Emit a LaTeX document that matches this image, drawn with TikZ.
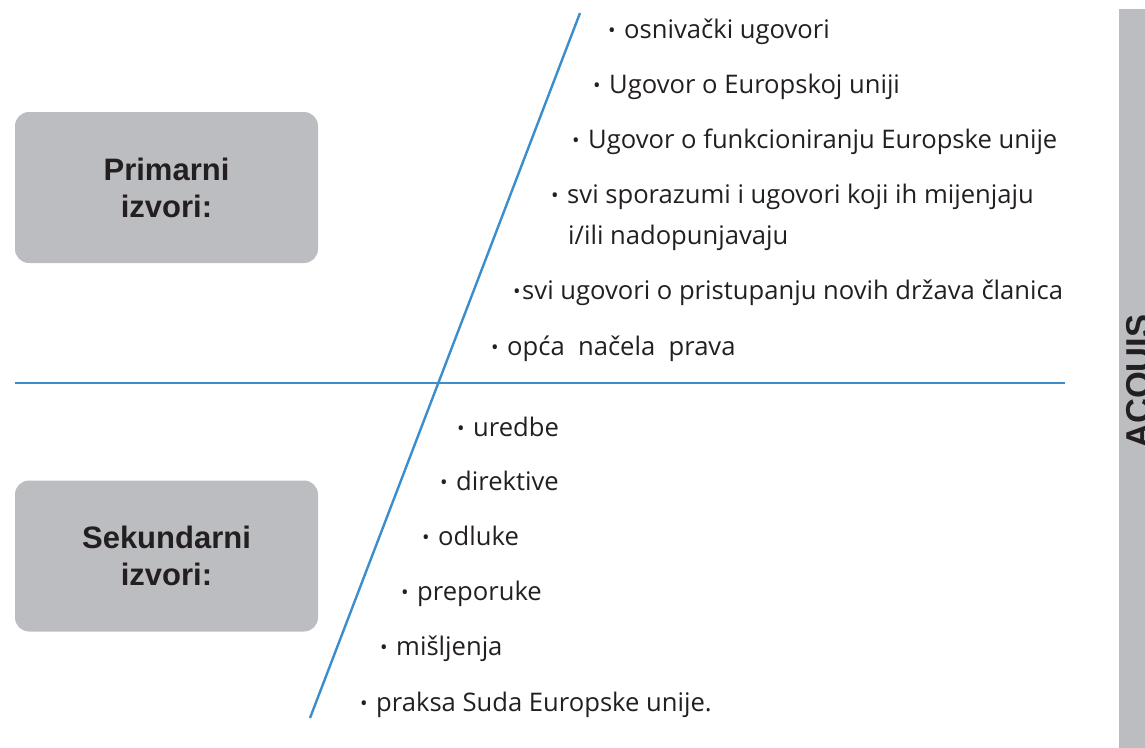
\documentclass[tikz,border=0pt]{standalone}
\usepackage{fontspec}
\setmainfont{Open Sans}
\newfontfamily\boxfont{Liberation Sans}
\definecolor{boxgray}{HTML}{BCBDC1}
\definecolor{lineblue}{HTML}{3B8ECB}
\definecolor{txt}{HTML}{231F20}
\newcommand{\bulglyph}{{\fontsize{20}{20}\selectfont\raisebox{1pt}{•}}}
\newcommand{\bul}{\bulglyph\hspace{8.5pt}}
\tikzset{
  x=1pt, y=-1pt,
  greybox/.style={fill=boxgray, rounded corners=14pt, minimum width=303pt, minimum height=151pt,
    inner sep=0pt, align=center, text=txt, font=\boxfont\bfseries\fontsize{31}{37}\selectfont},
  item/.style={anchor=base west, inner sep=0pt, text=txt, font=\fontsize{25.6}{30}\selectfont},
  blueline/.style={draw=lineblue, line width=2.4pt}
}
\begin{document}
\begin{tikzpicture}
\useasboundingbox (0,0) rectangle (1145,747);
\clip (0,0) rectangle (1145,747);
% right bar
\fill[boxgray] (1119,9) rectangle (1160,760);
\node[rotate=90, anchor=base west, inner sep=0pt, text=txt, font=\boxfont\bfseries\fontsize{34.5}{34.5}\selectfont] (acq) at (1150,449) {ACQUIS};
% boxes
\node[greybox] (prim) at (166.5,187.5) {Primarni\\izvori:};
\node[greybox] (sek) at (166.5,556) {Sekundarni\\izvori:};
% lines
\coordinate (hl) at (15,383);
\coordinate (hr) at (1065,383);
\coordinate (dt) at (580,13);
\coordinate (db) at (310,718);
\draw[blueline] (hl) -- (hr);
\draw[blueline] (dt) -- (db);
% primary items
\node[item] (p1) at (608,38) {\bul osnivački ugovori};
\node[item] (p2) at (593,93) {\bul Ugovor o Europskoj uniji};
\node[item] (p3) at (572,148) {\bul Ugovor o funkcioniranju Europske unije};
\node[item] (p4) at (551,203) {\bul svi sporazumi i ugovori koji ih mijenjaju};
\node[item] (p4b) at (568,244) {i/ili nadopunjavaju};
\node[item] (p5) at (513,299) {\bulglyph\hspace{1.5pt}svi ugovori o pristupanju novih država članica};
\node[item] (p6) at (491,355) {\bul opća\ \ načela\ \ prava};
% secondary items
\node[item] (s1) at (457,436) {\bul uredbe};
\node[item] (s2) at (440,490) {\bul direktive};
\node[item] (s3) at (422,545) {\bul odluke};
\node[item] (s4) at (401,600) {\bul preporuke};
\node[item] (s5) at (380,655) {\bul mišljenja};
\node[item] (s6) at (360,711) {\bul praksa Suda Europske unije.};
\end{tikzpicture}
\end{document}
